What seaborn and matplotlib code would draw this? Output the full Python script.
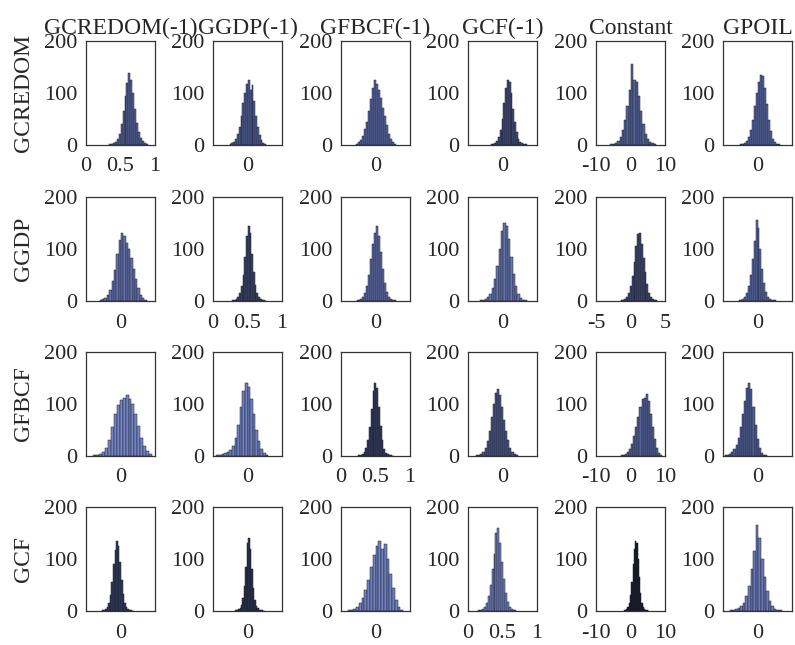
import matplotlib
matplotlib.use('Agg')
import matplotlib.pyplot as plt
import seaborn as sns
import numpy as np
import pandas as pd

# column / row names
col_names = ['GCREDOM(-1)', 'GGDP(-1)', 'GFBCF(-1)', 'GCF(-1)', 'Constant', 'GPOIL']
row_names = ['GCREDOM', 'GGDP', 'GFBCF', 'GCF']

# bin counts (20 bins per panel), one list per row
gcredom_counts = [
    [1, 2, 3, 6, 12, 22, 40, 65, 95, 120, 138, 125, 100, 70, 42, 25, 14, 7, 3, 1],
    [1, 3, 6, 12, 22, 35, 55, 80, 100, 118, 125, 105, 115, 85, 55, 35, 20, 10, 4, 2],
    [2, 5, 10, 18, 30, 45, 65, 88, 110, 125, 118, 105, 90, 72, 55, 38, 22, 12, 5, 2],
    [1, 2, 4, 8, 15, 28, 50, 80, 110, 125, 122, 100, 70, 45, 25, 12, 6, 3, 1, 1],
    [1, 2, 4, 8, 15, 28, 48, 75, 105, 155, 125, 122, 95, 65, 40, 22, 12, 6, 3, 1],
    [1, 2, 4, 8, 15, 28, 48, 75, 100, 122, 135, 132, 110, 78, 48, 26, 12, 5, 2, 1],
]
ggdp_counts = [
    [1, 3, 6, 12, 22, 38, 60, 90, 118, 130, 125, 112, 100, 82, 62, 42, 25, 12, 5, 2],
    [1, 2, 4, 8, 15, 28, 50, 85, 125, 145, 130, 90, 55, 30, 15, 7, 3, 1, 1, 0],
    [1, 2, 4, 8, 15, 28, 50, 80, 110, 130, 145, 125, 95, 62, 35, 18, 8, 4, 2, 1],
    [1, 2, 4, 8, 14, 25, 42, 68, 100, 135, 150, 145, 120, 85, 52, 28, 14, 6, 2, 1],
    [1, 2, 4, 8, 15, 28, 48, 75, 105, 128, 130, 110, 82, 55, 32, 16, 8, 3, 1, 1],
    [1, 2, 4, 8, 15, 28, 50, 80, 115, 155, 140, 100, 62, 35, 18, 8, 4, 2, 1, 1],
]
gfbcf_counts = [
    [1, 2, 4, 8, 15, 30, 55, 80, 98, 108, 112, 118, 110, 100, 80, 58, 35, 20, 10, 4],
    [1, 2, 3, 5, 8, 12, 20, 35, 60, 95, 125, 140, 132, 110, 80, 50, 28, 14, 6, 2],
    [1, 2, 4, 8, 15, 30, 55, 90, 125, 140, 130, 95, 58, 30, 14, 6, 3, 1, 1, 0],
    [1, 2, 4, 8, 15, 28, 48, 75, 100, 122, 128, 118, 95, 70, 48, 30, 16, 8, 3, 1],
    [1, 2, 4, 8, 14, 24, 38, 55, 75, 95, 110, 112, 120, 105, 80, 55, 32, 16, 6, 2],
    [1, 2, 4, 8, 14, 22, 35, 55, 80, 105, 130, 140, 128, 95, 60, 32, 15, 6, 2, 1],
]
gcf_counts = [
    [1, 2, 4, 8, 15, 30, 55, 90, 118, 135, 125, 95, 60, 32, 15, 7, 3, 1, 1, 0],
    [1, 2, 3, 6, 12, 25, 48, 85, 130, 140, 120, 80, 45, 22, 10, 5, 2, 1, 1, 0],
    [1, 2, 4, 8, 15, 25, 40, 60, 85, 108, 125, 135, 120, 128, 100, 72, 45, 22, 8, 2],
    [1, 2, 4, 8, 15, 28, 50, 80, 110, 150, 160, 130, 95, 62, 35, 18, 8, 3, 1, 1],
    [1, 2, 4, 8, 15, 30, 55, 90, 120, 135, 130, 100, 65, 35, 16, 7, 3, 1, 1, 0],
    [1, 2, 3, 5, 9, 16, 28, 48, 80, 115, 165, 140, 100, 65, 38, 20, 10, 4, 2, 1],
]

# range covered by the bins in each panel
gcredom_ranges = [(0.33, 0.90), (-0.52, 0.54), (-0.56, 0.60), (-0.34, 0.70), (-5.8, 7.4), (-0.50, 0.66)]
ggdp_ranges = [(-0.60, 0.76), (0.28, 0.78), (-0.55, 0.60), (-0.65, 0.70), (-1.4, 3.9), (-0.55, 0.55)]
gfbcf_ranges = [(-0.80, 0.92), (-0.90, 0.60), (0.25, 0.77), (-0.76, 0.44), (-2.8, 9.2), (-0.94, 0.28)]
gcf_ranges = [(-0.54, 0.38), (-0.36, 0.50), (-0.80, 0.80), (0.15, 0.70), (-2.0, 5.4), (-0.80, 0.70)]

all_counts = [gcredom_counts, ggdp_counts, gfbcf_counts, gcf_counts]
all_ranges = [gcredom_ranges, ggdp_ranges, gfbcf_ranges, gcf_ranges]

# bar fill colours per panel
colors = [
    ['#55639a', '#526096', '#5a68a2', '#414d7a', '#56649a', '#5a68a2'],
    ['#6472ab', '#3a4466', '#5f6da8', '#6775ae', '#3e4870', '#5b69a3'],
    ['#7585c4', '#7080be', '#333c5c', '#4b5787', '#56639a', '#525f94'],
    ['#323b5d', '#29314d', '#7080bd', '#7282be', '#16191f', '#6b7ab6'],
]

sns.set_theme(style='white')
plt.rcParams['font.family'] = ['Liberation Serif', 'DejaVu Serif']
plt.rcParams['axes.unicode_minus'] = False

W, H = 795, 645
fig = plt.figure(figsize=(W / 100, H / 100), dpi=100)
col_left = [86, 213, 341, 468, 596, 723]
row_top = [41, 197, 352, 507]
aw, ah = 69, 104

for r in range(4):
    for c in range(6):
        ax = fig.add_axes([col_left[c] / W, 1 - (row_top[r] + ah) / H, aw / W, ah / H])
        lo, hi = all_ranges[r][c]
        counts = all_counts[r][c]
        nb = len(counts)
        step = (hi - lo) / nb
        df = pd.DataFrame({'x': lo + step * (np.arange(nb) + 0.5), 'n': counts})
        sns.histplot(data=df, x='x', weights='n', bins=nb, binrange=(lo, hi), ax=ax,
                     color=colors[r][c], edgecolor='#1c1f2e', linewidth=0.35, alpha=1)
        if c == 4:
            if r == 1:
                ax.set_xlim(-5, 5)
                ax.set_xticks([-5, 0, 5])
            else:
                ax.set_xlim(-10, 10)
                ax.set_xticks([-10, 0, 10])
        elif r == c:
            ax.set_xlim(0, 1)
            ax.set_xticks([0, 0.5, 1])
            ax.set_xticklabels(['0', '0.5', '1'])
        else:
            ax.set_xlim(-1, 1)
            ax.set_xticks([0])
        ax.set_ylim(0, 200)
        ax.set_yticks([0, 100, 200])
        ax.tick_params(axis='both', labelsize=16, length=0)
        ax.tick_params(axis='x', pad=9)
        ax.tick_params(axis='y', pad=6)
        ax.set_ylabel('')
        ax.set_xlabel('')
        for s in ax.spines.values():
            s.set_visible(True)
            s.set_color('#333333')
            s.set_linewidth(0.9)
        if r == 0:
            ax.set_title(col_names[c], fontsize=17, pad=5)
        if c == 0:
            ax.set_ylabel(row_names[r], fontsize=17)
            ax.yaxis.set_label_coords(-0.76, 0.5)

fig.savefig('out.png', dpi=100)
